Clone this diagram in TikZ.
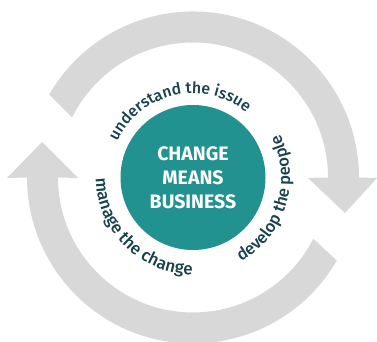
\documentclass[tikz,border=0pt]{standalone}
\usepackage{fontspec}
\setmainfont{Fira Sans}
\newfontfamily\labelfont{Fira Sans Medium}
\usetikzlibrary{decorations.text}
\definecolor{ringgrey}{HTML}{D9D8D9}
\definecolor{hubteal}{HTML}{219290}
\definecolor{labelink}{HTML}{17424E}
\tikzset{x=1pt,y=1pt,
  hub/.style={circle,fill=hubteal,minimum size=145pt,inner sep=0pt,text=white,align=center,font=\fontsize{19.5}{24}\selectfont\bfseries},
  curved/.style 2 args={decorate,decoration={text along path,text color=labelink,text align=center,
    text={|\labelfont\fontsize{#1}{18}\selectfont|#2}}}}
\begin{document}
\begin{tikzpicture}
\useasboundingbox (0,0) rectangle (377,342);
\clip (0,0) rectangle (377,342);
\coordinate (c) at (193,164.5);
% top-right arrow
\fill[ringgrey] ([shift={(150:166pt)}]c) arc[start angle=150,end angle=0,radius=166pt]
  -- (377,164) -- (345,129) -- (308,164) -- ([shift={(0:135pt)}]c)
  arc[start angle=0,end angle=153.6,radius=135pt] -- cycle;
% bottom-left arrow
\fill[ringgrey] ([shift={(-30:166pt)}]c) arc[start angle=-30,end angle=-180,radius=166pt]
  -- (7,164) -- (42,200) -- (78,164) -- ([shift={(180:135pt)}]c)
  arc[start angle=180,end angle=333,radius=135pt] -- cycle;
\node[hub] (h) at (c) {CHANGE\\MEANS\\BUSINESS};
\path[curved={15.8}{understand the issue}] ([shift={(160:84pt)}]c) arc[start angle=160,end angle=45,radius=84pt];
\path[curved={16.6}{develop the people}] ([shift={(-70:97pt)}]c) arc[start angle=-70,end angle=36,radius=97pt];
\path[curved={17}{manage the change}] ([shift={(168:97pt)}]c) arc[start angle=168,end angle=282,radius=97pt];
\end{tikzpicture}
\end{document}
